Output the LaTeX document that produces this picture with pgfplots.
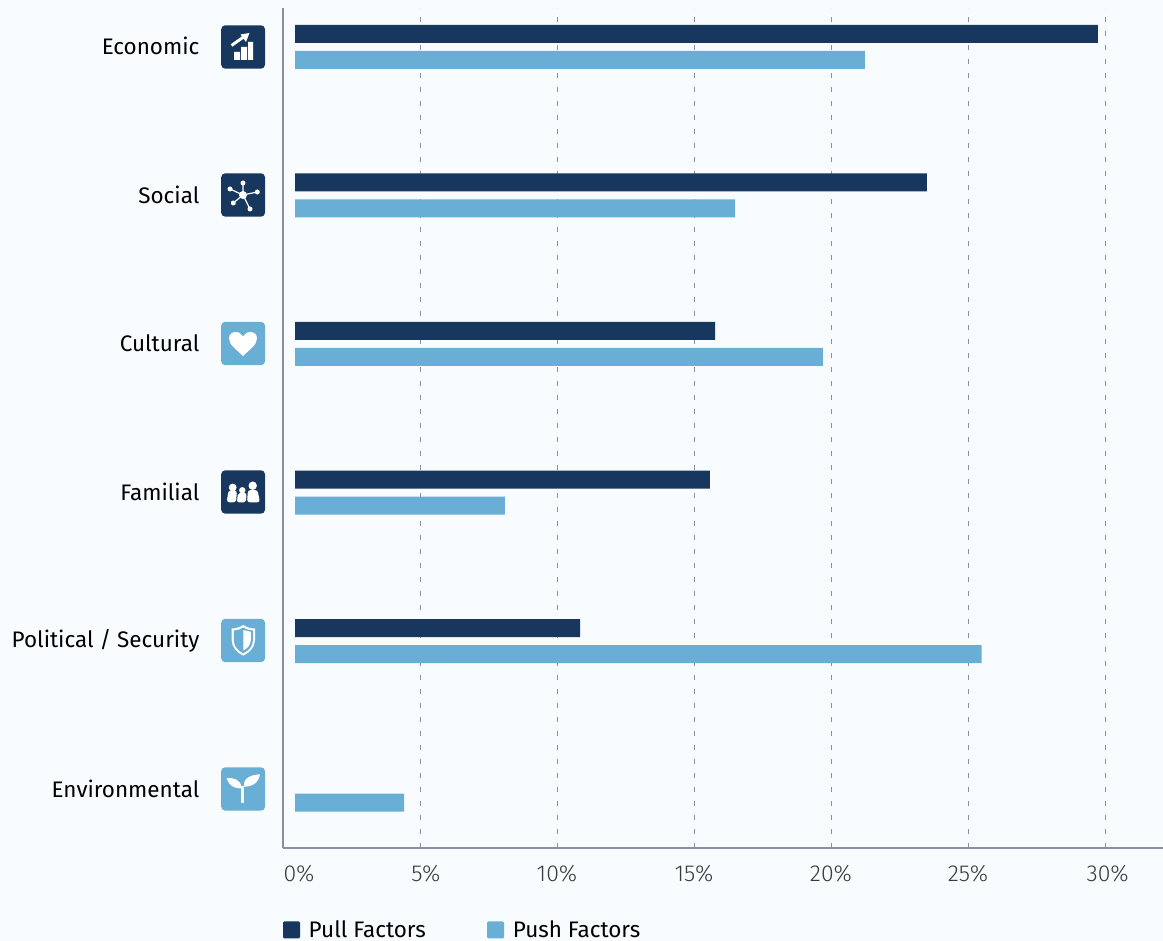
\documentclass[border=0pt]{standalone}
\usepackage{pgfplots}
\pgfplotsset{compat=1.18}
\usepackage{fontspec}
\setmainfont{Fira Sans}
\newfontfamily\lightfont{Fira Sans Light}
\definecolor{pagebg}{HTML}{F8FCFF}
\definecolor{pull}{HTML}{18375F}
\definecolor{push}{HTML}{69AED4}
\definecolor{axisgray}{HTML}{8C8EA8}
\definecolor{ticktext}{HTML}{3A3A3A}
% square badge behind every category icon, centred on x,y in pixel units
\newcommand{\badge}[3]{\fill[#1,rounded corners=3] (#2-21.8,#3-21.7) rectangle (#2+22,#3+21.7);}
\begin{document}
\begin{tikzpicture}
\useasboundingbox (0,0) rectangle (872.25pt,705.75pt);
\fill[pagebg] (0,0) rectangle (872.25pt,705.75pt);
% frame: axis lines, dashed guides, labels
\begin{axis}[
  at={(212.25pt,69.75pt)}, anchor=south west,
  scale only axis, width=660pt, height=630pt,
  xmin=0, xmax=32.117, ymin=-0.397, ymax=5.256,
  axis x line*=bottom, axis y line*=left,
  axis line style={axisgray,line width=0.9pt,-},
  xtick={0,5,10,15,20,25,30},
  xticklabels={\hspace*{24pt}0\%,\hspace*{9pt}5\%,10\%,15\%,20\%,25\%,\hspace*{4pt}30\%},
  ytick={0,1,2,3,4,5},
  yticklabels={Environmental,Political / Security,Familial,Cultural,Social,Economic},
  major tick length=0pt,
  xmajorgrids, grid style={axisgray,line width=0.6pt,dash pattern=on 3.75pt off 6.75pt},
  x tick label style={font=\lightfont\fontsize{17.3}{20}\selectfont,text=ticktext,yshift=-9.3pt,anchor=north},
  y tick label style={font=\fontsize{16.85}{19}\selectfont,text=black,anchor=east,xshift=-59.2pt},
]
\end{axis}
% bars, drawn in an axis that begins a little right of the frame's zero line
\begin{axis}[
  at={(221.25pt,69.75pt)}, anchor=south west,
  scale only axis, width=651pt, height=630pt,
  xmin=0.438, xmax=32.117, ymin=-0.397, ymax=5.256,
  hide axis,
  xbar, bar width=13.5pt,
  legend style={at={(-9pt,-70.5pt)},anchor=south west,draw=none,fill=none,inner sep=0pt,outer sep=0pt,
    legend columns=2,font=\fontsize{16.85}{19}\selectfont,
    /tikz/every even column/.append style={column sep=0pt}},
  legend cell align=left,
  legend image code/.code={\fill[#1,rounded corners=1pt] (0pt,-6.4pt) rectangle (12.8pt,6.4pt);},
]
\addplot[draw=none,fill=pull,bar shift=9.2pt] coordinates {
  (29.74,5) (23.5,4) (15.77,3) (15.58,2) (10.84,1)
};
\addlegendentry{\hspace*{4.5pt}Pull Factors\hspace*{44pt}}
\addplot[draw=none,fill=push,bar shift=-10.3pt] coordinates {
  (21.24,5) (16.5,4) (19.7,3) (8.1,2) (25.5,1) (4.42,0)
};
\addlegendentry{\hspace*{4.5pt}Push Factors}
\end{axis}
% category icons, written in pixel units from the top-left corner
\begin{scope}[shift={(0,705.75pt)},x=0.75pt,y=-0.75pt]
\badge{pull}{243}{47}
\fill[white] (234,52) rectangle (240,60) (241,47) rectangle (247,60) (248,42) rectangle (253,60);
\draw[white,line width=2.2pt] (231.5,45.5) -- (245,36);
\fill[white] (249.5,33) -- (240.5,34.5) -- (246,42) -- cycle;
\badge{pull}{243}{195}
\draw[white,line width=0.9pt] (243,183)--(243,195)--(257.3,192) (230,189)--(243,195)--(250,209) (233.3,203)--(243,195);
\fill[white] (243,195) circle[radius=4] (243,183) circle[radius=2.5] (257.3,192) circle[radius=2.5] (250,209) circle[radius=2.5] (233.3,203) circle[radius=2.5] (230,189) circle[radius=2.5];
\badge{push}{243}{343.5}
\fill[white] (243,356) .. controls (237,350) and (229,345) .. (229,338.5) .. controls (229,334.5) and (232,332) .. (235.5,332) .. controls (239,332) and (241.5,334) .. (243,336.5) .. controls (244.5,334) and (247,332) .. (250.5,332) .. controls (254,332) and (257,334.5) .. (257,338.5) .. controls (257,345) and (249,350) .. (243,356) -- cycle;
\badge{pull}{243}{492}
\fill[white] (252.7,485.7) circle[radius=4.2] (232.7,487.5) circle[radius=3.9] (242.3,490.3) circle[radius=3.2];
\fill[white,rounded corners=2] (247,502.3) -- (248,490) -- (257.5,490) -- (260,502.3) -- cycle;
\fill[white,rounded corners=2] (226.7,502.3) -- (228.5,490.5) -- (237,490.5) -- (236,502.3) -- cycle;
\fill[white,rounded corners=1.5] (236.9,502.3) -- (238,493) -- (246.5,493) -- (246,502.3) -- cycle;
\badge{push}{243}{640.5}
\fill[white] (243.3,625) .. controls (247,627.5) and (251,628.5) .. (255,628.5) -- (255,640) .. controls (255,647) and (250,652.5) .. (243.3,655.7) .. controls (236.5,652.5) and (231.7,647) .. (231.7,640) -- (231.7,628.5) .. controls (235.5,628.5) and (239.5,627.5) .. (243.3,625) -- cycle;
\fill[push] (243.3,627.5) .. controls (246.5,629.5) and (249.5,630.5) .. (253,630.5) -- (253,640) .. controls (253,646) and (248.5,651) .. (243.3,653.3) .. controls (238,651) and (233.8,646) .. (233.8,640) -- (233.8,630.5) .. controls (237,630.5) and (240,629.5) .. (243.3,627.5) -- cycle;
\fill[white] (243.3,630) -- (250.8,631.8) -- (250.8,640) .. controls (250.8,645) and (247,648.5) .. (243.3,650.5) -- cycle;
\badge{push}{243}{789}
\fill[white] (241,786) rectangle (244,802.7);
\fill[white] (226.7,778) .. controls (233,777.5) and (241,779) .. (241.7,788.5) .. controls (234,788.5) and (229,786) .. (226.7,778) -- cycle;
\fill[white] (260,774.3) .. controls (252,775) and (243,777) .. (244,786.7) .. controls (252,786.5) and (258,784) .. (260,774.3) -- cycle;
\end{scope}
\end{tikzpicture}
\end{document}
